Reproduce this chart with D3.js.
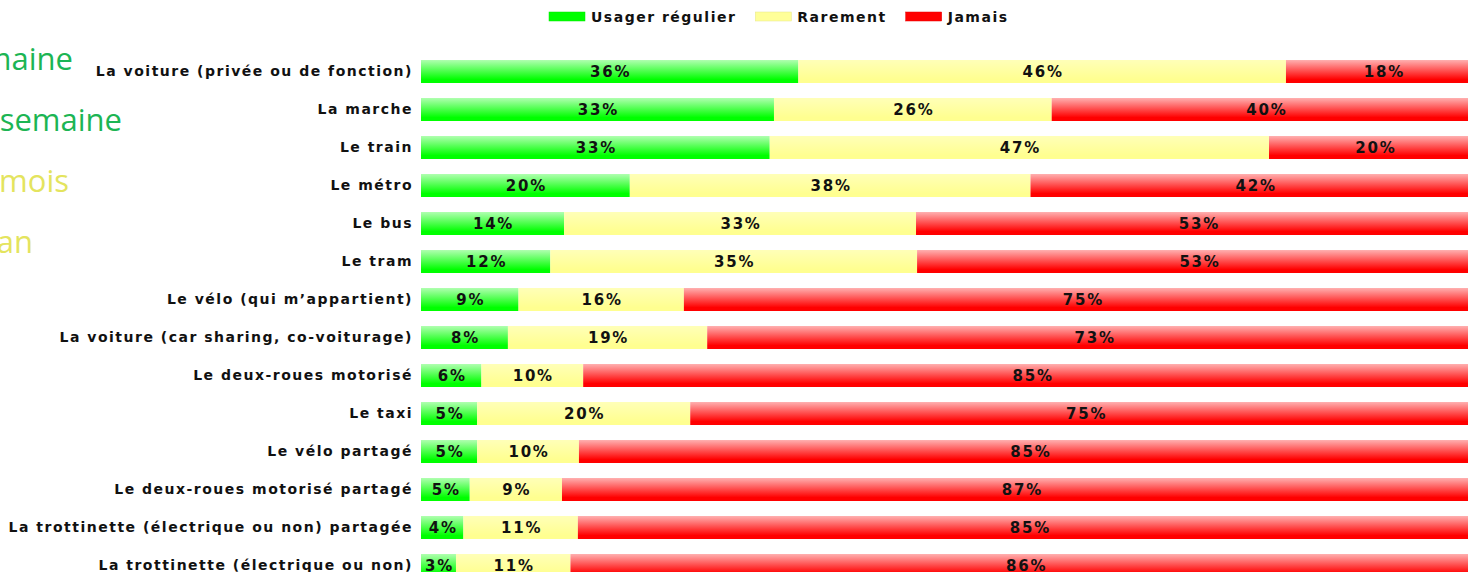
<!DOCTYPE html>
<html><head><meta charset="utf-8">
<script src="https://cdn.jsdelivr.net/npm/d3@7"></script>
<style>
html,body{margin:0;padding:0;background:#fff;overflow:hidden;}
svg{display:block;}
</style></head>
<body>
<svg id="chart" width="1468" height="572"></svg>
<script>
const categories = [
  "La voiture (privée ou de fonction)",
  "La marche",
  "Le train",
  "Le métro",
  "Le bus",
  "Le tram",
  "Le vélo (qui m’appartient)",
  "La voiture (car sharing, co-voiturage)",
  "Le deux-roues motorisé",
  "Le taxi",
  "Le vélo partagé",
  "Le deux-roues motorisé partagé",
  "La trottinette (électrique ou non) partagée",
  "La trottinette (électrique ou non)"
];
const regulier = [35.6, 33.3, 32.9, 19.7, 13.5, 12.2, 9.2, 8.2, 5.7, 5.3, 5.3, 4.6, 4.0, 3.3];
const rarement = [46.0, 26.2, 47.1, 37.8, 33.2, 34.6, 15.6, 18.8, 9.6, 20.1, 9.6, 8.7, 10.8, 10.8];
const jamais   = [18.4, 40.4, 20.0, 42.4, 53.3, 53.2, 75.2, 73.0, 84.7, 74.6, 85.1, 86.7, 85.2, 85.9];
const seriesNames = ["Usager régulier", "Rarement", "Jamais"];
const sideTexts = ["Plusieurs fois par semaine", "Une fois par semaine", "Une fois par mois", "Une fois par an"];

const FONT = "'DejaVu Sans', Verdana, sans-serif";
const svg = d3.select("#chart");
const defs = svg.append("defs");
function grad(id, top, bottom){
  const g = defs.append("linearGradient").attr("id", id).attr("x1",0).attr("y1",0).attr("x2",0).attr("y2",1);
  g.append("stop").attr("offset","0%").attr("stop-color",top);
  g.append("stop").attr("offset","85%").attr("stop-color",bottom);
  g.append("stop").attr("offset","100%").attr("stop-color",bottom);
}
grad("gG", "#b0ffb0", "#00ff00");
grad("gY", "#ffffb8", "#ffff90");
grad("gR", "#ffb0b0", "#ff0000");
const fills = ["url(#gG)", "url(#gY)", "url(#gR)"];
const legendFills = ["#00ff00", "#ffff99", "#ff0000"];

const x = d3.scaleLinear().domain([0, 100]).range([421, 1481]);
const y = d3.scaleBand().domain(categories).range([52.5, 52.5 + 14*38]).paddingInner(0.395).paddingOuter(0.1975);

// side texts (clipped at left edge, as in the reference)
const sideColors = ["#1cb554", "#1cb554", "#e4e45e", "#e4e45e"];
const sideX = [73, 122, 69, 33];
const sideY = [70, 131, 192, 253];
svg.append("g").selectAll("text").data(sideTexts).join("text")
  .attr("x", (d,i)=>sideX[i]).attr("y", (d,i)=>sideY[i])
  .attr("text-anchor","end")
  .attr("font-family","'Open Sans', sans-serif").attr("font-size", 31)
  .attr("fill", (d,i)=>sideColors[i]).text(d=>d);

const stacked = categories.map((c,i)=>{
  const vals = [regulier[i], rarement[i], jamais[i]];
  let acc = 0;
  return vals.map((v,k)=>{ const s = acc; acc += v; return {cat:c, k, v, x0:s, x1:acc}; });
});

const rows = svg.append("g").selectAll("g").data(stacked).join("g");
rows.selectAll("rect").data(d=>d).join("rect")
  .attr("x", d=>x(d.x0)).attr("width", d=>x(d.x1)-x(d.x0))
  .attr("y", d=>y(d.cat)).attr("height", y.bandwidth())
  .attr("fill", d=>fills[d.k]);
rows.selectAll("text").data(d=>d).join("text")
  .attr("x", d=>(x(d.x0)+x(d.x1))/2 + 1)
  .attr("y", d=>y(d.cat)+y.bandwidth()/2 + 0.5)
  .attr("dy","0.36em")
  .attr("text-anchor","middle")
  .attr("font-family",FONT).attr("font-weight","bold").attr("font-size",15)
  .attr("letter-spacing","1.8px")
  .attr("fill","#111")
  .text(d=>Math.round(d.v)+"%");

// category axis
const yAxis = d3.axisLeft(y).tickSize(0).tickPadding(0);
const ax = svg.append("g").attr("transform","translate(413,0)").call(yAxis);
ax.select(".domain").remove();
ax.selectAll("text").attr("font-family",FONT).attr("font-weight","bold").attr("font-size",14)
  .attr("letter-spacing","1.5px").attr("fill","#111");

// legend
const leg = svg.append("g");
let lx = 549;
seriesNames.forEach((n,i)=>{
  leg.append("rect").attr("x",lx).attr("y",12).attr("width",36).attr("height",9).attr("fill",legendFills[i])
    .attr("stroke", d3.color(legendFills[i]).darker(0.3)).attr("stroke-width",0.5);
  const t = leg.append("text").attr("x",lx+42).attr("y",22)
    .attr("font-family",FONT).attr("font-weight","bold").attr("font-size",14)
    .attr("letter-spacing","1.5px")
    .attr("fill","#111").text(n);
  lx += 42 + t.node().getComputedTextLength() + 19;
});
</script>
</body></html>
